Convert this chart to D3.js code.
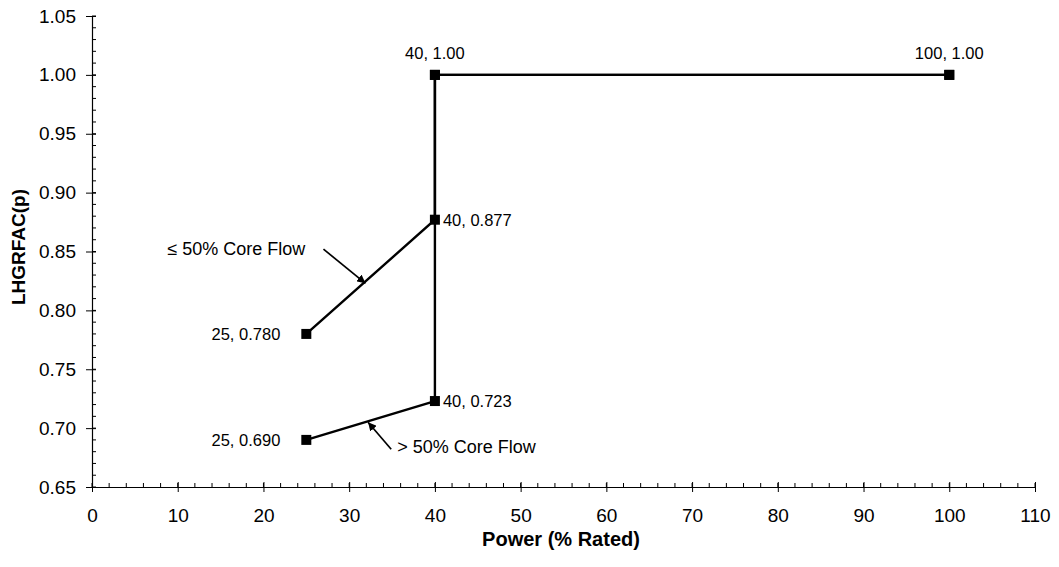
<!DOCTYPE html>
<html>
<head>
<meta charset="utf-8">
<script src="https://cdn.jsdelivr.net/npm/d3@7"></script>
<style>
  body { margin: 0; background: #fff; }
  text { font-family: Arial, "Liberation Sans", sans-serif; fill: #000; }
</style>
</head>
<body>
<svg id="chart" width="1059" height="567"></svg>
<script>
// ---- data ----
var lowFlow  = [{x:25, y:0.780}, {x:40, y:0.877}, {x:40, y:1.00}, {x:100, y:1.00}];
var highFlow = [{x:25, y:0.690}, {x:40, y:0.723}, {x:40, y:1.00}, {x:100, y:1.00}];

// point labels: text, value, and where it sits relative to the marker
var pointLabels = [
  {x:40,  y:1.00,  text:"40, 1.00",  pos:"top"},
  {x:100, y:1.00,  text:"100, 1.00", pos:"top"},
  {x:40,  y:0.877, text:"40, 0.877", pos:"right"},
  {x:40,  y:0.723, text:"40, 0.723", pos:"right"},
  {x:25,  y:0.780, text:"25, 0.780", pos:"left"},
  {x:25,  y:0.690, text:"25, 0.690", pos:"left"}
];

// callouts (arrow tail -> head in data units, text anchor)
var callouts = [
  {text:"\u2264 50% Core Flow", x1:27.0, y1:0.852, x2:31.9, y2:0.823, tx:8.8,  ty:0.847},
  {text:"> 50% Core Flow",      x1:34.9, y1:0.682, x2:32.2, y2:0.705, tx:35.6, ty:0.679}
];

var xTicks = d3.range(0, 111, 10);
var yTicks = d3.range(0.65, 1.0501, 0.05);

// ---- layout ----
var svg = d3.select("#chart");

var x = d3.scaleLinear().domain([0, 110]).range([92, 1035]);
var y = d3.scaleLinear().domain([0.65, 1.05]).range([487, 16]);

var gAxes = svg.append("g").attr("id","axes");

// minor ticks (inside only)
gAxes.append("g").selectAll("line")
  .data(d3.range(0, 111, 2))
  .enter().append("line")
  .attr("x1", function(d){return x(d);}).attr("x2", function(d){return x(d);})
  .attr("y1", y(0.65)).attr("y2", y(0.65) - 4)
  .attr("stroke","#000").attr("stroke-width",1);

gAxes.append("g").selectAll("line")
  .data(d3.range(65, 106, 1).map(function(d){return d/100;}))
  .enter().append("line")
  .attr("x1", x(0)).attr("x2", x(0) + 4)
  .attr("y1", function(d){return y(d);}).attr("y2", function(d){return y(d);})
  .attr("stroke","#000").attr("stroke-width",1);

// x axis with crossing major ticks
var xAxis = gAxes.append("g")
  .attr("transform","translate(0,"+y(0.65)+")")
  .call(d3.axisBottom(x).tickValues(xTicks).tickSizeInner(5).tickSizeOuter(0).tickPadding(17));
xAxis.selectAll(".tick line").attr("y1",-5);
xAxis.select(".domain").attr("stroke-width",1.2);
xAxis.selectAll("text").style("font-size","19px").attr("font-family","Arial, 'Liberation Sans', sans-serif");

var yAxis = gAxes.append("g")
  .attr("transform","translate("+x(0)+",0)")
  .call(d3.axisLeft(y).tickValues(yTicks).tickFormat(d3.format(".2f")).tickSizeInner(6).tickSizeOuter(0).tickPadding(10));
yAxis.selectAll(".tick line").attr("x1",4);
yAxis.select(".domain").attr("stroke-width",1.2);
yAxis.selectAll("text").style("font-size","19px").attr("font-family","Arial, 'Liberation Sans', sans-serif");

// axis titles
svg.append("text")
  .attr("x", 561).attr("y", 546)
  .attr("text-anchor","middle")
  .style("font-size","20px").style("font-weight","bold")
  .text("Power (% Rated)");

svg.append("text")
  .attr("transform","translate(25,247) rotate(-90)")
  .attr("text-anchor","middle")
  .style("font-size","19px").style("font-weight","bold")
  .text("LHGRFAC(p)");

// ---- series ----
var line = d3.line().x(function(d){return x(d.x);}).y(function(d){return y(d.y);});
var gSeries = svg.append("g").attr("id","series");

[lowFlow, highFlow].forEach(function(s){
  gSeries.append("path").datum(s)
    .attr("d", line)
    .attr("fill","none").attr("stroke","#000").attr("stroke-width",2.4);
  gSeries.append("g").selectAll("rect")
    .data(s).enter().append("rect")
    .attr("x", function(d){return x(d.x)-5;})
    .attr("y", function(d){return y(d.y)-5;})
    .attr("width",10).attr("height",10)
    .attr("fill","#000");
});

// ---- point labels ----
var gLabels = svg.append("g").attr("id","labels");
pointLabels.forEach(function(p){
  var t = gLabels.append("text").style("font-size","16.5px").text(p.text);
  if (p.pos=="top") {
    t.attr("x", x(p.x)).attr("y", y(p.y)-16).attr("text-anchor","middle");
  } else if (p.pos=="right") {
    t.attr("x", x(p.x)+8).attr("y", y(p.y)+6).attr("text-anchor","start");
  } else {
    t.attr("x", x(p.x)-26).attr("y", y(p.y)+6).attr("text-anchor","end");
  }
});

// ---- callouts with arrows ----
svg.append("defs").append("marker")
  .attr("id","arrowhead")
  .attr("viewBox","0 0 10 10").attr("refX",10).attr("refY",5)
  .attr("markerWidth",5).attr("markerHeight",5)
  .attr("orient","auto")
  .append("path").attr("d","M0,0 L10,5 L0,10 z").attr("fill","#000");

var gCallouts = svg.append("g").attr("id","callouts");
callouts.forEach(function(c){
  gCallouts.append("line")
    .attr("x1", x(c.x1)).attr("y1", y(c.y1))
    .attr("x2", x(c.x2)).attr("y2", y(c.y2))
    .attr("stroke","#000").attr("stroke-width",1.7)
    .attr("marker-end","url(#arrowhead)");
  gCallouts.append("text")
    .attr("x", x(c.tx)).attr("y", y(c.ty))
    .attr("text-anchor","start")
    .style("font-size","18px")
    .text(c.text);
});
</script>
</body>
</html>
